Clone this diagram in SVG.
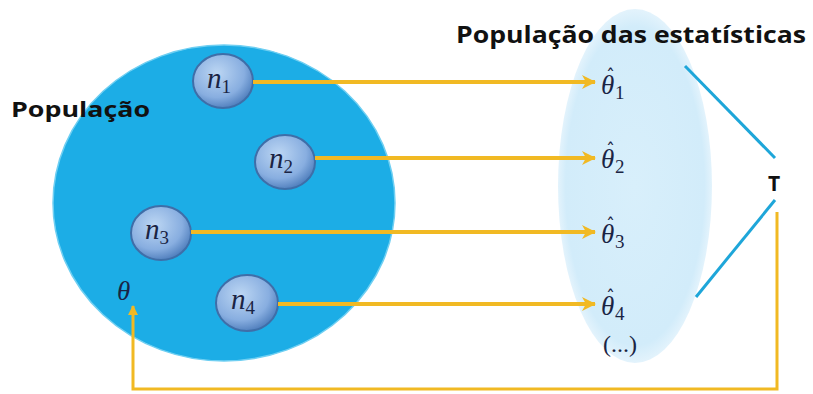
<svg xmlns="http://www.w3.org/2000/svg" width="813" height="394" viewBox="0 0 813 394">
<style>
.lbl{font-family:"Open Sans","Liberation Sans",sans-serif;font-weight:bold;fill:#111;}
.math{font-family:"Liberation Serif","DejaVu Serif",serif;font-style:italic;fill:#1a2444;}
.sub{font-family:"Liberation Serif","DejaVu Serif",serif;font-style:normal;}
.hat{font-family:"DejaVu Sans","Liberation Sans",sans-serif;font-style:normal;}
.flow{stroke:#f1b923;stroke-width:4;fill:none;}
.fb{stroke:#f1b923;stroke-width:3;fill:none;}
.tl{stroke:#1ea6d9;stroke-width:3;fill:none;}
.node{fill:url(#ng);stroke:#3f6ea8;stroke-width:2;}
</style>
<defs>
<radialGradient id="eg" cx="0.5" cy="0.5" r="0.5">
<stop offset="0" stop-color="#d8effb"/>
<stop offset="0.9" stop-color="#d2ecfa"/>
<stop offset="1" stop-color="#e3f3fc"/>
</radialGradient>
<radialGradient id="ng" cx="0.4" cy="0.35" r="0.65">
<stop offset="0" stop-color="#bcd6f3"/>
<stop offset="0.7" stop-color="#88aee0"/>
<stop offset="1" stop-color="#5583c0"/>
</radialGradient>
<marker id="ah" viewBox="0 0 14 14" refX="13" refY="7" markerWidth="14" markerHeight="14" markerUnits="userSpaceOnUse" orient="auto">
<path d="M0,0 L14,7 L0,14 L4,7 Z" fill="#f1b923"/>
</marker>
<marker id="ah2" viewBox="0 0 10 10" refX="9" refY="5" markerWidth="10" markerHeight="10" markerUnits="userSpaceOnUse" orient="auto">
<path d="M0,0 L10,5 L0,10 Z" fill="#f1b923"/>
</marker>
</defs>
<rect width="813" height="394" fill="#ffffff"/>
<g id="populacao">
<ellipse cx="224" cy="203" rx="171" ry="158" fill="#1cade6" stroke="#6fcff2" stroke-width="1.5"/>
<text class="lbl" x="11" y="117" font-size="21" textLength="139" lengthAdjust="spacingAndGlyphs">População</text>
</g>
<g id="estatisticas">
<ellipse cx="635" cy="186" rx="77" ry="177" fill="url(#eg)"/>
<text class="lbl" x="456" y="43" font-size="24" textLength="350" lengthAdjust="spacingAndGlyphs">População das estatísticas</text>
</g>
<g id="n1"><ellipse class="node" cx="223" cy="81" rx="30" ry="27"/><text class="math" x="207" y="88" font-size="29">n<tspan class="sub" font-size="19" dy="5">1</tspan></text></g>
<g id="n2"><ellipse class="node" cx="285" cy="162" rx="30" ry="27"/><text class="math" x="269" y="168" font-size="29">n<tspan class="sub" font-size="19" dy="5">2</tspan></text></g>
<g id="n3"><ellipse class="node" cx="161" cy="233" rx="30" ry="27"/><text class="math" x="145" y="239" font-size="29">n<tspan class="sub" font-size="19" dy="5">3</tspan></text></g>
<g id="n4"><ellipse class="node" cx="247" cy="303" rx="31" ry="28"/><text class="math" x="231" y="309" font-size="29">n<tspan class="sub" font-size="19" dy="5">4</tspan></text></g>
<g id="theta"><text class="math" x="117" y="300" font-size="27">θ</text></g>
<g id="thetahat1"><text class="math" x="601" y="94" font-size="27">θ<tspan class="hat" x="606" dy="-12" font-size="18">ˆ</tspan><tspan class="sub" x="615" dy="17" font-size="19">1</tspan></text></g>
<g id="thetahat2"><text class="math" x="601" y="168" font-size="27">θ<tspan class="hat" x="606" dy="-12" font-size="18">ˆ</tspan><tspan class="sub" x="615" dy="17" font-size="19">2</tspan></text></g>
<g id="thetahat3"><text class="math" x="601" y="243" font-size="27">θ<tspan class="hat" x="606" dy="-12" font-size="18">ˆ</tspan><tspan class="sub" x="615" dy="17" font-size="19">3</tspan></text></g>
<g id="thetahat4"><text class="math" x="601" y="315" font-size="27">θ<tspan class="hat" x="606" dy="-12" font-size="18">ˆ</tspan><tspan class="sub" x="615" dy="17" font-size="19">4</tspan></text></g>
<g id="etc"><text class="sub" x="603" y="352" font-size="24" fill="#1a2444">(...)</text></g>
<g id="T"><text class="lbl" x="768" y="191" font-size="21">T</text></g>
<g id="connectors">
<line class="flow" x1="253" y1="82" x2="595" y2="82" marker-end="url(#ah)"/>
<line class="flow" x1="315" y1="158" x2="595" y2="158" marker-end="url(#ah)"/>
<line class="flow" x1="191" y1="232" x2="595" y2="232" marker-end="url(#ah)"/>
<line class="flow" x1="278" y1="304" x2="595" y2="304" marker-end="url(#ah)"/>
<line class="tl" x1="685" y1="66" x2="775" y2="158"/>
<line class="tl" x1="775" y1="200" x2="696" y2="297"/>
<polyline class="fb" points="777,212 777,389 133,389 133,306" marker-end="url(#ah2)"/>
</g>
</svg>
